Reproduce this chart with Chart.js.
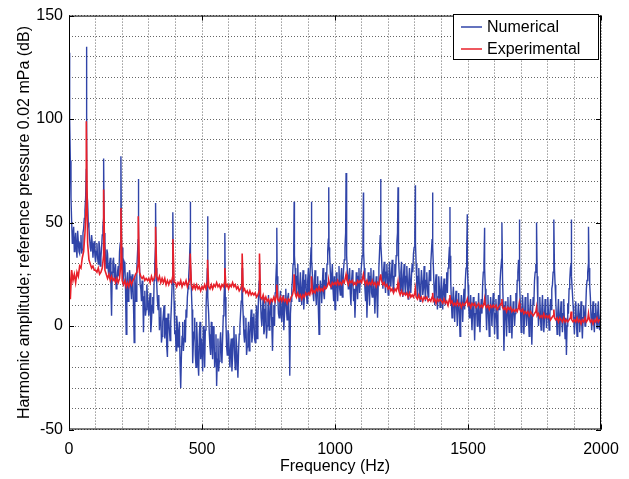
<!DOCTYPE html>
<html>
<head>
<meta charset="utf-8">
<title>Harmonic amplitude spectrum</title>
<script src="https://cdn.jsdelivr.net/npm/chart.js@4.4.1/dist/chart.umd.min.js"></script>
<style>
  html, body { margin: 0; padding: 0; background: #fff; }
  #wrap { width: 629px; height: 479px; position: relative; }
</style>
</head>
<body>
<div id="wrap"><canvas id="spectrum"></canvas></div>
<script>
// spectrum bins are 5 Hz apart, one row per 100 Hz
const binHz = 5;

// numerical model, bins at 0, 5, 10 ... 2000 Hz
const numericalNoise = [
    132, 80, 50, 44, 36, 45, 33, 41, 35, 44, 37, 47, 56, 76, 60, 47, 38, 44, 33, 41,
    31, 40, 30, 38, 33, 44, 52, 40, 28, 35, 24, 33, 5, 31, 22, 30, 21, 29, 36, 45,
    38, 25, 30, -4, 26, 15, 24, 13, 22, -8, 19, 28, 42, 29, 18, 22, -3, 17, 8, 15,
    5, 16, 2, 14, 22, 38, 20, 8, -2, 9, -5, 6, -6, 4, -15, 3, -7, 10, 30, 12,
    -2, 5, -10, 2, -30, -5, -12, 3, 8, 14, 24, 40, 18, -18, -3, -14, 2, -18, -4, -16,
    -12, 0, -20, 8, 28, 6, -10, 2, -16, -2, -13, -29, -6, -17, -3, -18, 5, 22, 2, -14,
    -4, -20, -6, -15, 0, -21, -9, -25, -4, 6, 20, 5, -8, 4, -10, 2, -6, 8, -4, 6,
    -8, 10, 3, 22, 12, 0, 14, -2, 12, 0, 15, 2, 13, -12, 10, 16, 30, 14, 4, 17,
    2, 15, 5, 18, 3, 16, -24, 12, 22, 36, 28, 14, 30, 12, 26, 10, 27, 14, 25, 11,
    28, 20, 38, 25, 12, 27, 10, 24, -4, 22, 11, 28, 13, 26, 30, 42, 34, 18, 30, 12,
    8, 26, 12, 29, 15, 28, 20, 32, 45, 34, 18, 28, 10, 27, 12, 4, 26, 13, 28, 22,
    30, 40, 28, 12, 4, 26, 10, 28, 14, 27, 6, 24, 4, 28, 44, 33, 18, 31, 16, 30,
    15, 31, 19, 32, 16, 30, 34, 45, 33, 17, 31, 14, 30, 15, 29, 13, 28, 16, 30, 35,
    45, 30, 14, 28, 12, 27, 15, 29, 12, 26, 14, 27, 30, 42, 28, 10, 25, 8, 24, 9,
    24, 8, 23, 10, 26, 28, 38, 22, 4, 19, 2, 17, 0, 16, -5, 15, 2, 18, 22, 35,
    20, 4, 15, -2, 14, -7, 12, 0, 16, -3, 13, 20, 30, 18, -2, 15, -5, 14, 0, 16,
    -4, 13, -6, 15, 20, 30, 22, -12, 12, -5, 14, -3, 15, -6, 12, 0, 16, 22, 32, 20,
    -3, 15, -4, 14, 0, 16, -5, 13, -9, 14, 22, 30, 24, 0, 14, -2, 15, -3, 13, -1,
    14, -2, 13, 18, 26, 28, 12, -4, 13, -5, 12, -3, 13, -6, -14, 11, 18, 28, 24, 10,
    -4, 12, -5, 11, -3, 12, -6, 10, 0, 18, 26, 28, 14, -2, 12, -3, 11, -1, 12, -2,
    8
];

// numerical model, in-between bins at 2.5, 7.5 ... 1997.5 Hz
const numericalMid = [
    100, 62, 40, 48, 40, 38, 46, 36, 40, 35, 45, 52, 62, 66, 50, 42, 36, 40, 38, 34,
    36, 33, 41, 29, 38, 48, 45, 32, 37, 27, 30, 20, 26, 33, 25, 18, 26, 24, 40, 35,
    20, 31, 18, 22, 12, 27, 18, 25, 10, 24, 12, 35, 36, 20, 12, 16, 14, 5, 20, 10,
    12, -3, 10, 6, 30, 28, 12, 15, 4, -8, 2, 10, -1, -10, 6, -2, 2, 20, 24, -4,
    -12, 0, -4, -18, -15, 2, -6, -8, 4, 18, 30, 30, 8, -8, 4, -20, -8, -24, 2, -6,
    -22, -6, -2, 18, 14, -4, -14, -8, 0, -20, -4, -16, -22, -8, -12, -6, 12, 14, -10, -2,
    -14, -10, -22, -6, -14, -4, -16, -12, 0, 12, 12, -4, -2, -14, -4, -12, 2, -8, 4, -6,
    2, -6, 14, 16, 4, 8, -4, 8, -6, 6, -2, 10, 0, 4, 0, 22, 24, 6, 12, 6,
    10, -2, 12, 8, 14, 2, 6, 18, 30, 34, 20, 24, 18, 20, 16, 20, 8, 22, 16, 22,
    16, 30, 32, 16, 22, 15, 20, 8, 16, 18, 20, 16, 22, 18, 36, 38, 26, 24, 18, 24,
    18, 20, 22, 18, 24, 14, 28, 38, 42, 24, 24, 16, 22, 20, 18, 14, 20, 24, 16, 26,
    34, 36, 18, 22, 16, 18, 24, 16, 22, 16, 18, 14, 20, 36, 40, 24, 26, 22, 26, 22,
    24, 22, 26, 22, 24, 24, 40, 40, 22, 26, 20, 24, 20, 24, 20, 22, 20, 24, 26, 38,
    40, 20, 24, 18, 20, 22, 18, 20, 22, 18, 20, 22, 36, 38, 18, 20, 16, 14, 18, 16,
    15, 18, 14, 20, 16, 32, 34, 12, 12, 10, 12, 8, 10, 6, 8, 10, 12, 8, 28, 30,
    10, 10, 6, 8, 4, 6, 8, 6, 4, 8, 6, 26, 28, 8, 10, 4, 6, 8, 10, 6,
    6, 4, 8, 8, 26, 28, 10, 2, 6, 8, 4, 8, 6, 4, 8, 6, 8, 26, 28, 8,
    6, 8, 4, 8, 6, 4, 8, 2, 6, 10, 26, 28, 10, 6, 4, 8, 6, 4, 8, 6,
    6, 4, 8, 20, 30, 20, 4, 6, 4, 6, 4, 6, 2, 4, 0, 6, 22, 30, 16, 4,
    4, 2, 4, 6, 4, 2, 4, 6, 8, 22, 30, 20, 4, 6, 2, 6, 4, 6, 2, 4
];

// experiment, bins at 0, 5, 10 ... 2000 Hz
const experimentalNoise = [
    31, 13, 27, 22, 25, 21, 26, 24, 29, 28, 33, 36, 45, 60, 40, 32, 30, 28, 29, 27,
    27, 26, 28, 25, 26, 28, 34, 27, 25, 23, 25, 22, 24, 22, 23, 21, 23, 21, 23, 30,
    22, 20, 22, 19, 21, 19, 22, 20, 22, 23, 25, 26, 30, 26, 24, 23, 24, 22, 23, 22,
    23, 21, 24, 22, 23, 26, 24, 22, 24, 21, 23, 21, 23, 20, 22, 20, 22, 21, 24, 21,
    21, 19, 21, 20, 22, 19, 21, 20, 22, 19, 21, 23, 20, 18, 20, 18, 20, 18, 19, 17,
    19, 18, 20, 18, 21, 19, 18, 20, 18, 20, 19, 21, 19, 20, 18, 20, 19, 21, 19, 20,
    18, 20, 19, 21, 19, 20, 18, 19, 17, 18, 20, 17, 18, 16, 17, 15, 17, 15, 16, 15,
    16, 14, 15, 17, 14, 13, 15, 12, 14, 12, 13, 11, 13, 12, 14, 12, 15, 13, 12, 14,
    12, 14, 12, 13, 11, 13, 12, 14, 15, 18, 16, 14, 16, 14, 15, 13, 15, 14, 16, 15,
    16, 15, 18, 16, 17, 16, 18, 17, 19, 17, 18, 17, 19, 18, 19, 21, 20, 19, 21, 20,
    21, 20, 22, 20, 21, 20, 22, 21, 24, 22, 20, 22, 21, 22, 20, 21, 20, 22, 21, 22,
    21, 24, 22, 20, 22, 20, 21, 20, 22, 20, 21, 19, 21, 20, 24, 22, 20, 21, 19, 20,
    18, 19, 17, 18, 16, 18, 17, 19, 17, 15, 17, 15, 16, 15, 16, 14, 16, 14, 15, 14,
    16, 14, 13, 15, 13, 14, 12, 14, 13, 14, 12, 13, 12, 14, 12, 13, 11, 13, 12, 13,
    12, 11, 13, 11, 12, 10, 13, 11, 12, 10, 11, 10, 12, 10, 11, 9, 11, 10, 11, 12,
    10, 11, 9, 11, 10, 11, 9, 10, 11, 9, 10, 9, 11, 10, 9, 10, 8, 10, 9, 10,
    9, 10, 8, 9, 10, 11, 9, 8, 9, 7, 9, 8, 9, 7, 8, 7, 8, 7, 9, 8,
    7, 8, 6, 7, 6, 7, 5, 7, 6, 5, 6, 7, 5, 6, 4, 5, 4, 6, 4, 5,
    4, 5, 3, 4, 5, 4, 3, 4, 2, 4, 3, 2, 4, 2, 3, 2, 3, 4, 3, 2,
    3, 2, 4, 2, 3, 1, 3, 2, 4, 2, 3, 4, 2, 3, 1, 3, 2, 4, 2, 3,
    3
];

// harmonic peaks (fundamental about 65 Hz)
const harmonicHz = [65.1, 130.2, 195.3, 260.4, 325.5, 390.6, 455.7, 520.8, 585.9, 651,
    716.1, 781.2, 846.3, 911.4, 976.5, 1041.6, 1106.7, 1171.8, 1236.9, 1302,
    1367.1, 1432.2, 1497.3, 1562.4, 1627.5, 1692.6, 1757.7, 1822.8, 1887.9, 1953];
const numericalPeaks = [135, 81, 82, 71, 59.5, 55, 60, 53, 45, 28,
    30, 47.5, 60, 60, 67, 74, 64.5, 71, 67, 68,
    64.5, 57.5, 54, 47.5, 50, 51.5, 50, 51.5, 51.5, 48];
const experimentalPeaks = [99, 66, 57, 53, 48, 42, 35, 32, 28, 35,
    35, 20, 25, 24, 22, 25, 25, 25, 21, 18,
    16, 15, 13, 13, 13, 11, 9, 8, 7, 6];

const xTickLabels = [0, 500, 1000, 1500, 2000];
const yTickLabels = [-50, 0, 50, 100, 150];

const blue = "#3044a8";
const red = "#e8202a";

function buildSeries(noise, mid, peaks) {
    const pts = noise.map((y, i) => ({ x: i * binHz, y: y }));
    mid.forEach((y, i) => pts.push({ x: i * binHz + binHz / 2, y: y }));
    harmonicHz.forEach((f, k) => pts.push({ x: f, y: peaks[k] }));
    pts.sort((a, b) => a.x - b.x);
    return pts;
}

Chart.defaults.font.family = "'Liberation Sans', Arial, Helvetica, sans-serif";
Chart.defaults.font.size = 16;
Chart.defaults.color = "#000";

// box round the plot with small inward ticks, like matlab
const frameBox = {
    id: "frameBox",
    afterDatasetsDraw(chart) {
        const { ctx, chartArea: a, scales } = chart;
        ctx.save();
        ctx.strokeStyle = "#000";
        ctx.lineWidth = 1;
        ctx.strokeRect(a.left + 0.5, a.top + 0.5, a.right - a.left - 1, a.bottom - a.top - 1);
        ctx.beginPath();
        xTickLabels.forEach(v => {
            const px = Math.round(scales.x.getPixelForValue(v)) + 0.5;
            ctx.moveTo(px, a.bottom); ctx.lineTo(px, a.bottom - 5);
            ctx.moveTo(px, a.top); ctx.lineTo(px, a.top + 5);
        });
        yTickLabels.forEach(v => {
            const py = Math.round(scales.y.getPixelForValue(v)) + 0.5;
            ctx.moveTo(a.left, py); ctx.lineTo(a.left + 5, py);
            ctx.moveTo(a.right, py); ctx.lineTo(a.right - 5, py);
        });
        ctx.stroke();
        ctx.restore();
    }
};

// legend box in the top right corner of the plot
const boxLegend = {
    id: "boxLegend",
    afterDraw(chart) {
        const ctx = chart.ctx;
        const left = 453, top = 14, w = 145, h = 45;
        ctx.save();
        ctx.fillStyle = "#fff";
        ctx.fillRect(left, top, w, h);
        ctx.strokeStyle = "#000";
        ctx.lineWidth = 1;
        ctx.strokeRect(left + 0.5, top + 0.5, w, h);
        ctx.font = "16px 'Liberation Sans', Arial, sans-serif";
        ctx.textBaseline = "middle";
        chart.data.datasets.forEach((ds, i) => {
            const y = top + 13 + i * 22;
            ctx.strokeStyle = i === 0 ? blue : red;
            ctx.lineWidth = 1.5;
            ctx.beginPath();
            ctx.moveTo(left + 8, y);
            ctx.lineTo(left + 29, y);
            ctx.stroke();
            ctx.fillStyle = "#000";
            ctx.fillText(ds.label, left + 34, y + 1);
        });
        ctx.restore();
    }
};

new Chart(document.getElementById("spectrum"), {
    type: "line",
    data: {
        datasets: [
            {
                label: "Numerical",
                data: buildSeries(numericalNoise, numericalMid, numericalPeaks),
                borderColor: blue,
                borderWidth: 1.4,
                pointRadius: 0,
                tension: 0,
                order: 1
            },
            {
                label: "Experimental",
                data: buildSeries(experimentalNoise, [], experimentalPeaks),
                borderColor: red,
                borderWidth: 1.6,
                pointRadius: 0,
                tension: 0,
                order: 0
            }
        ]
    },
    options: {
        responsive: true,
        maintainAspectRatio: false,
        animation: false,
        layout: { padding: { top: 10, right: 28, bottom: 0, left: 0 } },
        plugins: {
            legend: { display: false },
            tooltip: { enabled: false }
        },
        scales: {
            x: {
                type: "linear",
                min: 0,
                max: 2000,
                afterFit(scale) { scale.height = 49.5; },
                ticks: {
                    stepSize: 100,
                    autoSkip: false,
                    maxRotation: 0,
                    padding: 10,
                    callback: v => (xTickLabels.includes(v) ? v : "")
                },
                grid: { color: "rgba(0,0,0,0.6)", drawTicks: false },
                border: { display: false, dash: [1, 2] },
                title: { display: true, text: "Frequency (Hz)", padding: { top: 0, bottom: 3 } }
            },
            y: {
                min: -50,
                max: 150,
                afterFit(scale) { scale.width = 69; },
                ticks: {
                    stepSize: 10,
                    autoSkip: false,
                    padding: 6,
                    callback: v => (yTickLabels.includes(v) ? v : "")
                },
                grid: { color: "rgba(0,0,0,0.6)", drawTicks: false },
                border: { display: false, dash: [1, 2] },
                title: {
                    display: true,
                    text: "Harmonic amplitude; reference pressure 0.02 mPa (dB)",
                    padding: { top: 15, bottom: 0 }
                }
            }
        }
    },
    plugins: [frameBox, boxLegend]
});
</script>
</body>
</html>
